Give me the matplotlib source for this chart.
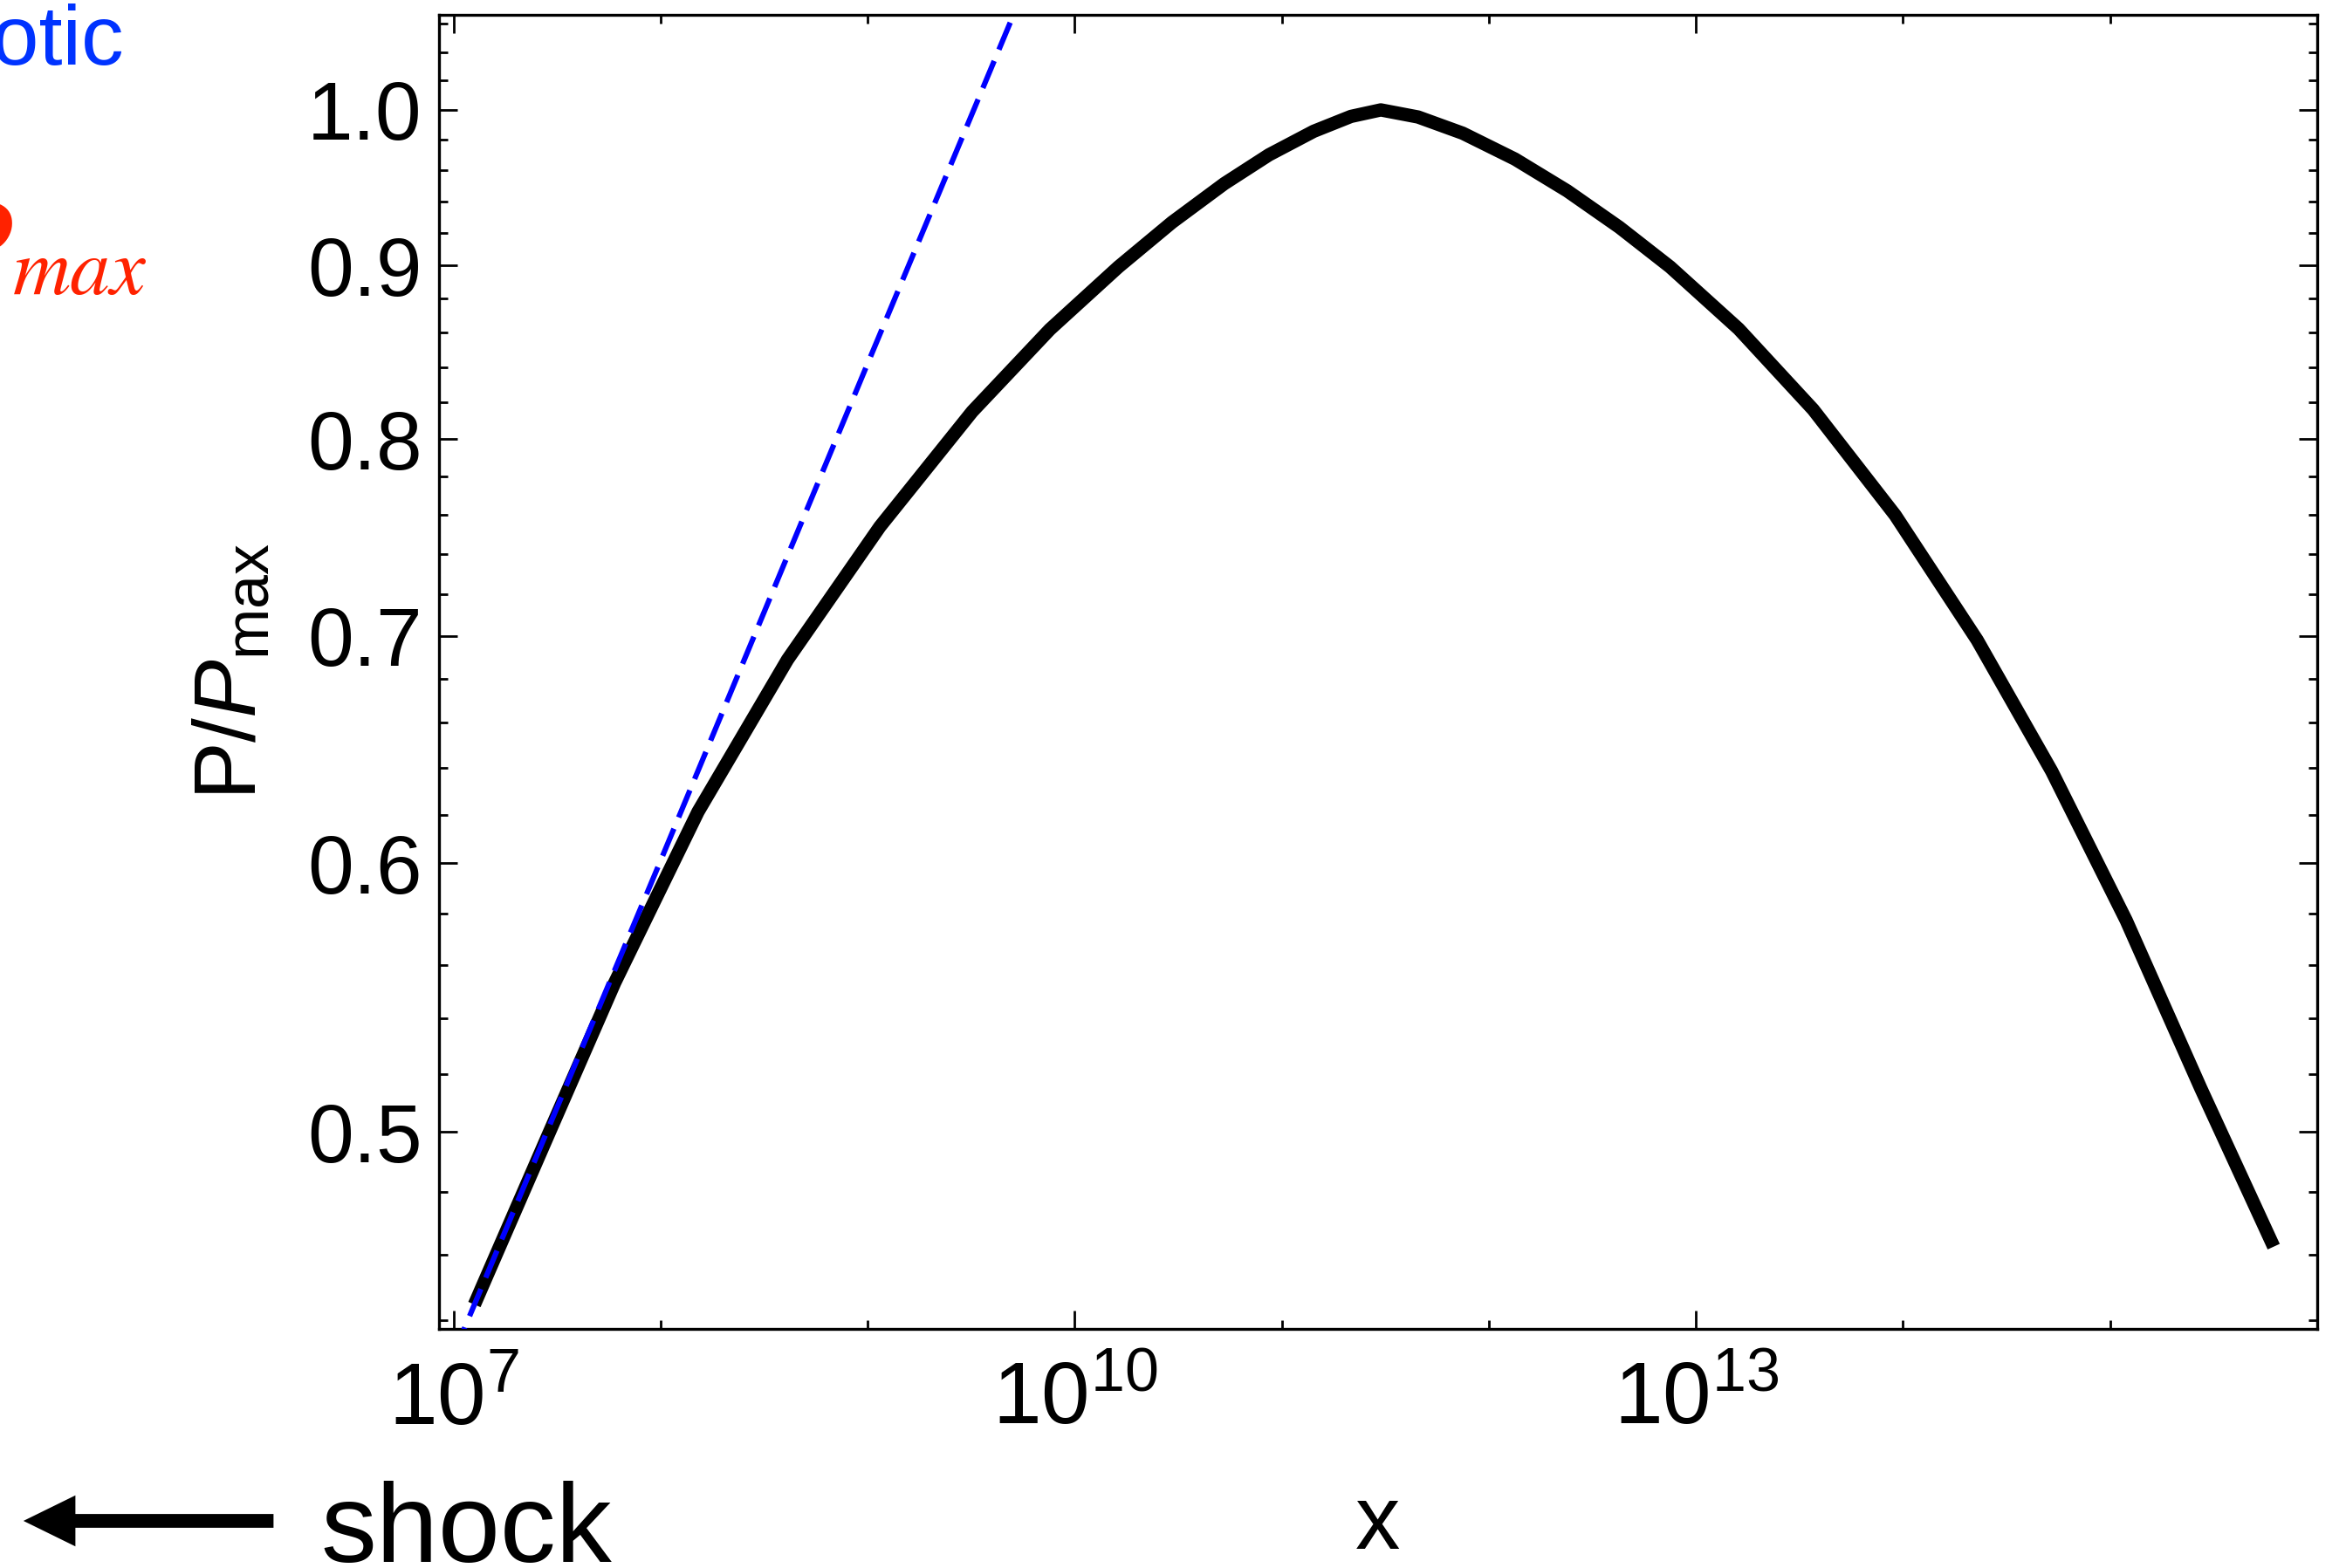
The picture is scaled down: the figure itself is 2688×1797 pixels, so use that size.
import numpy as np
import matplotlib
matplotlib.use("Agg")
import matplotlib.pyplot as plt
from matplotlib.patches import FancyArrow
from matplotlib.ticker import FixedLocator, NullFormatter, FormatStrFormatter

# black curve: log10(x) and P/Pmax
curve_logx = [7.101, 7.446, 7.778, 8.181, 8.613, 9.059, 9.505, 9.880, 10.211,
              10.470, 10.722, 10.938, 11.154, 11.334, 11.478,
              11.658, 11.874, 12.126, 12.378, 12.630, 12.875, 13.206, 13.566,
              13.962, 14.358, 14.718, 15.078, 15.438, 15.790]
curve_y = [0.4448, 0.4972, 0.5532, 0.6213, 0.6888, 0.7538, 0.8150, 0.8617, 0.8990,
           0.9266, 0.9512, 0.9700, 0.9856, 0.9956, 1.000,
           0.9952, 0.9843, 0.9672, 0.9466, 0.9235, 0.8990, 0.8620, 0.8161,
           0.7597, 0.6980, 0.6386, 0.5771, 0.5150, 0.4626]

# blue dashed asymptote (straight on log-log axes)
asym_logx = [7.0, 8.0, 9.0, 10.0]
asym_y = [0.430, 0.601, 0.842, 1.178]

ytick_vals = [0.5, 0.6, 0.7, 0.8, 0.9, 1.0]
xtick_exp = [7, 10, 13]

plt.rcParams['font.family'] = 'Liberation Sans'
plt.rcParams['mathtext.fontset'] = 'custom'
plt.rcParams['mathtext.rm'] = 'Liberation Sans'
plt.rcParams['mathtext.it'] = 'Liberation Sans:italic'
plt.rcParams['mathtext.bf'] = 'Liberation Sans:bold'

W, H = 2688, 1797
fig = plt.figure(figsize=(W / 200, H / 200), dpi=200)
ax = fig.add_axes([503 / W, 274 / H, (2655 - 503) / W, (1523 - 17) / H])

ax.plot(10 ** np.array(curve_logx), curve_y, color='black', lw=5.5,
        solid_capstyle='butt', solid_joinstyle='round', zorder=2)
ax.plot(10 ** np.array(asym_logx), asym_y, color='#0000ff', lw=2.2,
        dashes=(5.5, 2.3), dash_capstyle='butt', zorder=3)

ax.set_xscale('log')
ax.set_yscale('log')
ax.set_xlim(10 ** 6.93, 10 ** 16)
ax.set_ylim(0.4375, 1.0666)

ax.xaxis.set_major_locator(FixedLocator([10.0 ** e for e in xtick_exp]))
ax.xaxis.set_minor_locator(FixedLocator([10.0 ** e for e in range(7, 17)]))
ax.xaxis.set_minor_formatter(NullFormatter())
ax.yaxis.set_major_locator(FixedLocator(ytick_vals))
ax.yaxis.set_major_formatter(FormatStrFormatter('%.1f'))
ax.yaxis.set_minor_locator(FixedLocator(np.arange(0.44, 1.07, 0.02)))
ax.yaxis.set_minor_formatter(NullFormatter())

ax.tick_params(which='both', direction='in', top=True, right=True, width=1.0)
ax.tick_params(which='major', length=7.5)
ax.tick_params(which='minor', length=3.6)
ax.tick_params(axis='x', pad=13, labelsize=36)
ax.tick_params(axis='y', pad=7, labelsize=34)
for s in ax.spines.values():
    s.set_linewidth(1.2)

ax.set_xlabel('x', fontsize=37)
ax.xaxis.set_label_coords(0.5, -0.1175)
ax.set_ylabel(r'P/$P_{\mathrm{max}}$', fontsize=36)
ax.yaxis.set_label_coords(-0.0874, 0.5)

# legend-like labels cut by the figure edge
red = '#ff2200'
fig.text(142 / W, 1 - 74 / H, 'asymptotic', color='#0033ff', fontsize=35,
         ha='right', va='baseline')
fig.text(15 / W, 1 - 344 / H, 'P', family='STIXGeneral', style='italic',
         fontsize=63, color=red, ha='right', va='baseline')
fig.text(15 / W, 1 - 337 / H, 'max', family='STIXGeneral', style='italic',
         fontsize=33, color=red, ha='left', va='baseline')

# shock direction
fig.text(367 / W, 7 / H, 'shock', fontsize=46, ha='left', va='baseline')
fig.patches.append(FancyArrow(312 / 200, (H - 1743) / 200, -282 / 200, 0,
                              width=0.065, head_width=0.27, head_length=0.275,
                              length_includes_head=True, color='black',
                              transform=fig.dpi_scale_trans))

fig.savefig('out.png', dpi=200)
